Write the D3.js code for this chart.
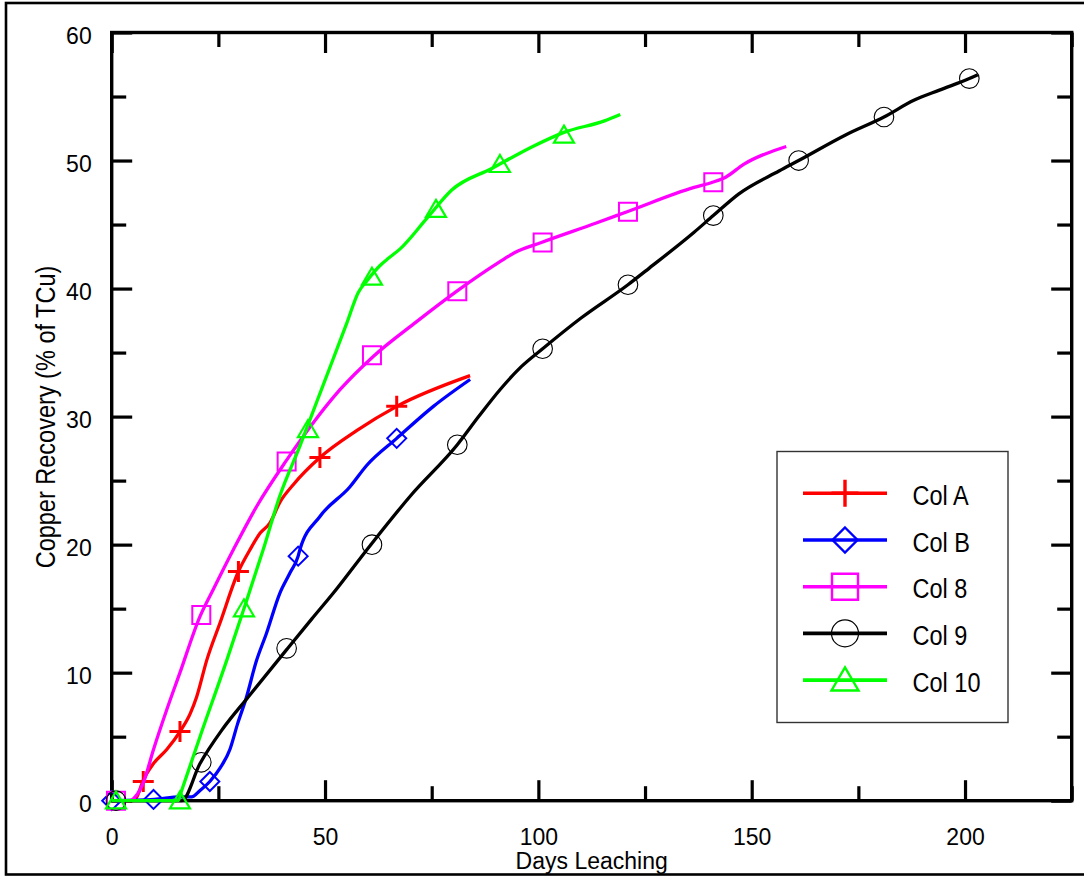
<!DOCTYPE html>
<html><head><meta charset="utf-8">
<script src="https://cdn.jsdelivr.net/npm/d3@7/dist/d3.min.js"></script>
<style>body{margin:0;background:#fff}svg{display:block}</style>
</head><body>
<svg id="chart" width="1084" height="877"></svg>
<script>
// ---- data ----
const seriesNames = ["Col A", "Col B", "Col 8", "Col 9", "Col 10"];
const seriesColors = ["#ff0000", "#0000ff", "#ff00ff", "#000000", "#00ff00"];
const seriesShapes = ["plus", "diamond", "square", "circle", "triangle"];

const colALine = [[0,0],[4.8,0],[5.9,0.3],[7.4,1.6],[9.8,2.9],[12.9,4.0],[16,5.4],[18.4,6.8],[19.9,8.1],[22.3,11],[25.4,13.9],[29.7,17.9],[32.4,19.6],[34.8,20.9],[37.1,21.7],[39.4,23.3],[42.6,24.7],[48.8,26.8],[57.4,28.9],[66.8,30.8],[84,33.2]];
const colAMarks = [[7.4,1.5],[16,5.4],[29.7,17.9],[48.8,26.8],[66.8,30.8]];

const colBLine = [[0,0],[10,0.1],[16,0.3],[18.7,0.3],[20.7,0.8],[23,1.5],[25.5,2.6],[27.7,4.0],[29.5,6.0],[31.6,8.1],[33.8,10.8],[36.3,13.1],[39.4,16.2],[41.8,17.8],[43.7,19.1],[44.1,19.6],[48.8,22.2],[55.8,24.5],[59.8,26.2],[66.8,28.3],[75.4,30.8],[84,32.9]];
const colBMarks = [[0,0],[9.8,0.1],[23,1.5],[43.7,19.1],[66.8,28.3]];

const col8Line = [[0,0],[4.3,0],[5.5,0.3],[7.4,1.4],[9.8,4.0],[12.9,7.1],[16,10],[20.7,14.4],[23.8,16.5],[28.5,19.6],[34,23],[41,26.6],[47.2,29.5],[53.5,32.1],[61.3,34.7],[71.4,37.4],[80.9,39.8],[91,42.1],[94.4,42.8],[100.7,43.6],[113.4,45.1],[120.8,46.0],[136.5,47.9],[140.8,48.3],[143.9,48.7],[148.1,49.7],[158.1,51.1]];
const col8Marks = [[1,0],[21,14.5],[41,26.5],[61,34.8],[81,39.8],[101,43.6],[121,46.0],[141,48.3]];

const col9Line = [[0,0],[16.4,0],[20.7,2.9],[26,5.6],[32,8.1],[41,11.8],[46.9,14.2],[51.9,16.2],[60.5,19.9],[70,23.8],[81,27.8],[86,30],[91,32.1],[96,33.9],[101,35.3],[110,37.7],[121,40.3],[126,41.6],[136.5,44.4],[141,45.7],[147,47.4],[156.5,49.2],[161,50],[172,52],[181,53.4],[188,54.7],[194,55.5],[201,56.4],[203,56.7]];
const col9Marks = [[1,0],[21,3.0],[41,11.9],[61,20.0],[81,27.8],[101,35.3],[121,40.3],[141,45.7],[161,50.0],[181,53.4],[201,56.4]];

const col10Line = [[0,0],[15.6,0],[16.4,0.8],[20.7,5.0],[27,11],[31.2,15.2],[35.5,19.6],[39.4,23.8],[44.1,27.7],[48,31.1],[51.9,34.5],[55.1,37.3],[57.8,39.7],[59.8,40.6],[62.9,41.8],[65,42.4],[67.6,43.1],[73.9,45.5],[79.7,47.7],[89.2,49.4],[98.7,51.1],[106,52.2],[115.5,53.1],[119.2,53.6]];
const col10Marks = [[1,0],[16,0],[31,15],[46,29],[61,40.9],[76,46.2],[91,49.7],[106,52.0]];

const xMajorTicks = [0, 50, 100, 150, 200];
const xMinorTicks = [25, 75, 125, 175, 225];
const yMajorTicks = [0, 10, 20, 30, 40, 50, 60];
const yMinorTicks = [5, 15, 25, 35, 45, 55];
const xTitle = "Days Leaching";
const yTitle = "Copper Recovery (% of TCu)";

const lines = [colALine, colBLine, col8Line, col9Line, col10Line];
const marks = [colAMarks, colBMarks, col8Marks, col9Marks, col10Marks];

// ---- layout ----
const svg = d3.select("#chart");
const L = 111.7, R = 1071.7, T = 32.5, B = 800.7;
const x = d3.scaleLinear().domain([0, 225]).range([L, R]);
const y = d3.scaleLinear().domain([0, 60]).range([B, T]);
const tickFont = "'Liberation Sans', Arial, sans-serif";
const narrowScale = 0.84;

function styleAxis(g, showLabels) {
  g.select(".domain").remove();
  g.selectAll(".tick line").attr("stroke", "#000").attr("stroke-width", 3.2);
  g.selectAll(".tick text").attr("fill", "#000").style("font-family", tickFont).style("font-size", "23px");
  if (!showLabels) g.selectAll(".tick text").remove();
}

// bottom
svg.append("g").attr("transform", `translate(0,${B})`)
  .call(d3.axisBottom(x).tickValues(xMajorTicks).tickSize(-20.5).tickPadding(28).tickFormat(d3.format("d")))
  .call(g => styleAxis(g, true));
svg.append("g").attr("transform", `translate(0,${B})`)
  .call(d3.axisBottom(x).tickValues(xMinorTicks).tickSize(-14.5))
  .call(g => styleAxis(g, false));
// top
svg.append("g").attr("transform", `translate(0,${T})`)
  .call(d3.axisTop(x).tickValues(xMajorTicks).tickSize(-20.5))
  .call(g => styleAxis(g, false));
svg.append("g").attr("transform", `translate(0,${T})`)
  .call(d3.axisTop(x).tickValues(xMinorTicks).tickSize(-14.5))
  .call(g => styleAxis(g, false));
// left
svg.append("g").attr("transform", `translate(${L},0)`)
  .call(d3.axisLeft(y).tickValues(yMajorTicks).tickSize(-20.5).tickPadding(20).tickFormat(d3.format("d")))
  .call(g => { styleAxis(g, true); g.selectAll(".tick text").attr("dy", "0.46em"); });
svg.append("g").attr("transform", `translate(${L},0)`)
  .call(d3.axisLeft(y).tickValues(yMinorTicks).tickSize(-14.5))
  .call(g => styleAxis(g, false));
// right
svg.append("g").attr("transform", `translate(${R},0)`)
  .call(d3.axisRight(y).tickValues(yMajorTicks).tickSize(-20.5))
  .call(g => styleAxis(g, false));
svg.append("g").attr("transform", `translate(${R},0)`)
  .call(d3.axisRight(y).tickValues(yMinorTicks).tickSize(-14.5))
  .call(g => styleAxis(g, false));

// plot frame
svg.append("rect").attr("x", L).attr("y", T).attr("width", R - L).attr("height", B - T)
  .attr("fill", "none").attr("stroke", "#000").attr("stroke-width", 3.4);

// ---- series ----
const lineGen = d3.line().x(d => x(d[0])).y(d => y(d[1])).curve(d3.curveMonotoneX);

function markerPath(shape, s) {
  switch (shape) {
    case "plus": return `M${-s},0H${s}M0,${-s}V${s}`;
    case "diamond": return `M0,${-s}L${s},0L0,${s}L${-s},0Z`;
    case "square": return `M${-s},${-s}H${s}V${s}H${-s}Z`;
    case "circle": return d3.symbol(d3.symbolCircle, Math.PI * s * s)();
    case "triangle": { const h = s * 1.7; return `M0,${-h * 0.55}L${s},${h * 0.45}L${-s},${h * 0.45}Z`; }
  }
}
const markerStroke = {plus: 3, diamond: 2, square: 2, circle: 1.1, triangle: 2.2};
const plotSize = {plus: 10.5, diamond: 9.5, square: 9, circle: 9.8, triangle: 10};
const legendSize = {plus: 13.5, diamond: 12.5, square: 13, circle: 13.5, triangle: 13.5};

seriesNames.forEach((name, i) => {
  const g = svg.append("g");
  g.append("path").datum(lines[i]).attr("d", lineGen)
    .attr("fill", "none").attr("stroke", seriesColors[i]).attr("stroke-width", 3.3)
    .attr("stroke-linejoin", "round");
  g.selectAll("path.m").data(marks[i]).join("path").attr("class", "m")
    .attr("transform", d => `translate(${x(d[0])},${y(d[1])})`)
    .attr("d", markerPath(seriesShapes[i], plotSize[seriesShapes[i]]))
    .attr("fill", "none").attr("stroke", seriesColors[i])
    .attr("stroke-width", markerStroke[seriesShapes[i]]);
});

// ---- legend ----
const lg = svg.append("g");
lg.append("rect").attr("x", 777).attr("y", 451.5).attr("width", 231).attr("height", 271)
  .attr("fill", "#fff").attr("stroke", "#333").attr("stroke-width", 1.4);
seriesNames.forEach((name, i) => {
  const cy = 493.3 + i * 46.7;
  lg.append("line").attr("x1", 803).attr("x2", 887).attr("y1", cy).attr("y2", cy)
    .attr("stroke", seriesColors[i]).attr("stroke-width", 3.6);
  lg.append("path").attr("transform", `translate(845,${cy})`)
    .attr("d", markerPath(seriesShapes[i], legendSize[seriesShapes[i]]))
    .attr("fill", "none").attr("stroke", seriesColors[i])
    .attr("stroke-width", seriesShapes[i] === "plus" ? 3.4 : (seriesShapes[i] === "circle" ? 1.2 : 2.4));
  lg.append("text").attr("transform", `translate(912.5,${cy + 11.5}) scale(${narrowScale},1)`).text(name)
    .style("font-family", tickFont).style("font-size", "28px").attr("fill", "#000");
});

// ---- titles ----
svg.append("text").attr("x", (L + R) / 2).attr("y", 869).attr("text-anchor", "middle")
  .style("font-family", tickFont).style("font-size", "23px").text(xTitle);
svg.append("text").attr("transform", `translate(55,417) rotate(-90) scale(${narrowScale},1)`).attr("text-anchor", "middle")
  .style("font-family", tickFont).style("font-size", "28px").text(yTitle);

// outer frame
svg.append("rect").attr("x", 6).attr("y", 3).attr("width", 1100).attr("height", 871.5)
  .attr("fill", "none").attr("stroke", "#000").attr("stroke-width", 2.6);
</script>
</body></html>
